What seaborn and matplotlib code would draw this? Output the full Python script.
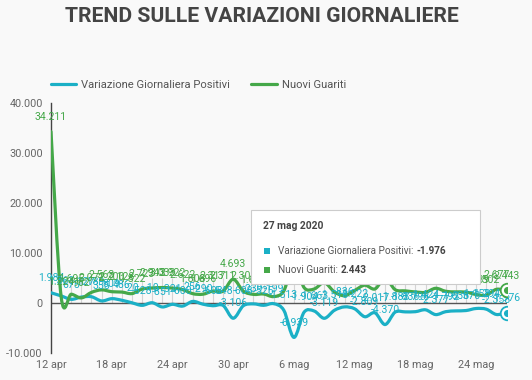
import numpy as np
import pandas as pd
import seaborn as sns
import matplotlib.pyplot as plt
from matplotlib.path import Path
from matplotlib.patches import PathPatch, Rectangle
from matplotlib.lines import Line2D

# dati giornalieri 12 apr - 27 mag 2020
dates = pd.date_range('2020-04-12', '2020-05-27', freq='D')
variazione_positivi = [1984, 1363, 675, 1127, 1189, 355, 809, 486, -20,
                       -528, -10, -851, -321, -680, 256, -290, -608, -548, -3106,
                       -608, -239, -525, -199, -1513, -6939, -1904, -1663, -3119, -1518,
                       -836, -1222, -2809, -2017, -4370, -1883, -1836, -1798, -1424, -2377,
                       -1792, -1638, -1570, -1158, -1294, -2358, -1976]
nuovi_guariti = [34211, 1224, 1695, 962, 2072, 2563, 2200, 2128, 1822,
                 2723, 2943, 3033, 2922, 2622, 1808, 1696, 2317, 2311, 4693,
                 2304, 1665, 1740, 1225, 2352, 8014, 3031, 2747, 4008, 2155,
                 1401, 2452, 3502, 2747, 4917, 2605, 2366, 2150, 2075, 2881,
                 2278, 2160, 2120, 1639, 1502, 2677, 2443]
x_tick_pos = [0, 6, 12, 18, 24, 30, 36, 42]
x_tick_labels = ['12 apr', '18 apr', '24 apr', '30 apr', '6 mag', '12 mag', '18 mag', '24 mag']
y_ticks = [-10000, 0, 10000, 20000, 30000, 40000]
y_tick_labels = ['-10.000', '0', '10.000', '20.000', '30.000', '40.000']
series_names = ['Variazione Giornaliera Positivi', 'Nuovi Guariti']

TEAL = '#1bb0c6'
GREEN = '#45a849'
BG = '#f9f9f9'
W, H = 532, 380

sns.set_theme(style='white', rc={'figure.facecolor': BG, 'axes.facecolor': BG})
plt.rcParams['font.family'] = ['Roboto', 'DejaVu Sans']

df = pd.DataFrame({'giorno': np.arange(len(dates)),
                   series_names[0]: variazione_positivi,
                   series_names[1]: nuovi_guariti})


def smooth_path(x, y):
    # catmull-rom as cubic bezier segments
    pts = np.column_stack([x, y]).astype(float)
    n = len(pts)
    verts = [pts[0]]
    codes = [Path.MOVETO]
    for i in range(n - 1):
        p0 = pts[max(i - 1, 0)]
        p1 = pts[i]
        p2 = pts[i + 1]
        p3 = pts[min(i + 2, n - 1)]
        verts += [p1 + (p2 - p0) / 6, p2 - (p3 - p1) / 6, p2]
        codes += [Path.CURVE4] * 3
    return Path(verts, codes)


def fmt(v):
    return f'{v:,}'.replace(',', '.')


fig = plt.figure(figsize=(W / 100, H / 100), dpi=100)
ax = fig.add_axes([51 / W, 1 - 352.7 / H, 455.5 / W, 250 / H])

ax.vlines(df['giorno'], 0, 5000, color='#d4d4d4', lw=0.8, zorder=1)
ax.axhline(0, color='#555555', lw=1, zorder=2)

colors = [TEAL, GREEN]
for name, color in zip(series_names, colors):
    ax.add_patch(PathPatch(smooth_path(df['giorno'], df[name]), fill=False,
                           edgecolor=color, lw=2.3, capstyle='round',
                           joinstyle='round', zorder=3))

for name, color in zip(series_names, colors):
    for xi, v in zip(df['giorno'], df[name]):
        ax.annotate(fmt(v), (xi, v), xytext=(0, 8.5), textcoords='offset points',
                    ha='center', va='baseline', fontsize=7.6, color=color,
                    zorder=5, annotation_clip=False)

last = df.iloc[[-1]]
for name, color in zip(series_names, colors):
    sns.scatterplot(x=last['giorno'], y=last[name], ax=ax, s=95, color='white',
                    edgecolor=color, linewidth=1.3, zorder=6, legend=False)
    sns.scatterplot(x=last['giorno'], y=last[name], ax=ax, s=26, color=color,
                    edgecolor=color, linewidth=0, zorder=7, legend=False)

ax.set_xlim(0, len(dates) - 1)
ax.set_ylim(-10000, 40000)
ax.set_xticks(x_tick_pos)
ax.set_xticklabels(x_tick_labels)
ax.set_yticks(y_ticks)
ax.set_yticklabels(y_tick_labels)
ax.tick_params(axis='both', length=0, labelsize=7.8, labelcolor='#666666')
ax.tick_params(axis='x', pad=5)
ax.tick_params(axis='y', pad=6)
ax.set_xlabel('')
ax.set_ylabel('')
for s in ['top', 'right', 'bottom']:
    ax.spines[s].set_visible(False)
ax.spines['left'].set_color('#444444')
ax.spines['left'].set_linewidth(1)
ax.grid(False)

# titolo e legenda
fig.text(262 / W, 1 - 16 / H, 'TREND SULLE VARIAZIONI GIORNALIERE', ha='center',
         va='center', fontsize=15.2, fontweight='bold', color='#444444')
handles = [Line2D([], [], color=c, lw=2.3) for c in colors]
fig.legend(handles, series_names, loc='center left', ncol=2,
           bbox_to_anchor=(45 / W, 1 - 85 / H), frameon=False, borderpad=0,
           fontsize=8.1, handlelength=2.25, handletextpad=0.45,
           columnspacing=1.9, labelcolor='#555555')

# tooltip
fig.add_artist(Rectangle((251 / W, 1 - 284 / H), 229 / W, 74 / H,
                         transform=fig.transFigure, facecolor='white',
                         edgecolor='#cccccc', lw=0.8, zorder=10))
fig.text(263 / W, 1 - 226 / H, '27 mag 2020', ha='left', va='center',
         fontsize=7.4, fontweight='bold', color='#444444', zorder=11)
renderer = fig.canvas.get_renderer()
tip_values = [variazione_positivi[-1], nuovi_guariti[-1]]
for i, (name, color, v) in enumerate(zip(series_names, colors, tip_values)):
    yp = 250.5 + 19.5 * i
    fig.add_artist(Rectangle((264 / W, 1 - (yp + 3) / H), 6 / W, 6 / H,
                             transform=fig.transFigure, facecolor=color,
                             edgecolor='none', zorder=11))
    t = fig.text(278 / W, 1 - yp / H, name + ':', ha='left', va='center',
                 fontsize=7.2, color='#555555', zorder=11)
    bb = t.get_window_extent(renderer)
    fig.text((bb.x1 + 3) / W, 1 - yp / H, fmt(v), ha='left', va='center',
             fontsize=7.2, fontweight='bold', color='#444444', zorder=11)

fig.savefig('out.png', dpi=100, facecolor=BG)
